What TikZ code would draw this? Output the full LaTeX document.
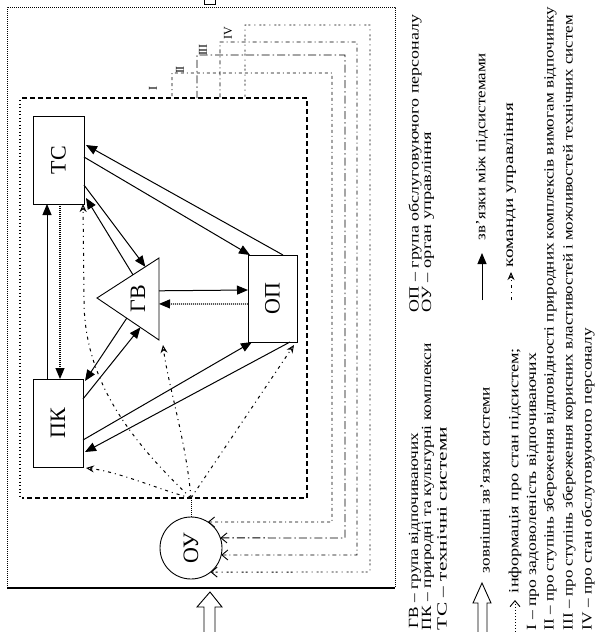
\documentclass[tikz,border=0pt]{standalone}
\usepackage{fontspec}
\setmainfont{Liberation Serif}
\usepackage{graphicx}
\usetikzlibrary{arrows.meta,calc}
\newcommand\hfit[2]{\resizebox{#1}{\height}{#2}}
\newcommand\lgf{\fontsize{14}{14}\selectfont}
\newcommand\bxf{\fontsize{22}{22}\selectfont}
\begin{document}
\begin{tikzpicture}[x=1pt,y=-1pt,
  every node/.style={inner sep=0pt,outer sep=0pt},
  box/.style={draw,line width=0.9pt},
  link/.style={line width=1pt,-{Triangle[length=11pt,width=9pt]}},
  retlink/.style={link,densely dotted,line width=1.2pt},
  cmd/.style={line width=1pt,dash pattern=on 3pt off 4pt on 1pt off 4pt,-{Stealth[length=8pt,width=7pt,open]}},
  info/.style={line width=0.9pt,{Straight Barb[length=6pt,width=10pt]}-},
  leg/.style={rotate=90,anchor=west,font=\lgf},
  roman/.style={font=\fontsize{12}{12}\selectfont},
  hollow/.style={line width=0.9pt}]
\useasboundingbox (0,0) rectangle (599,632);
\fill[white] (0,0) rectangle (599,632);

% outer frame
\draw[line width=1pt,dash pattern=on 1pt off 1pt] (7,588) -- (7,7) -- (395,7) -- (395,588);
\draw[line width=1.4pt] (7,588) -- (395,588);
% inner (system) boundary
\draw[line width=1.1pt,dash pattern=on 5pt off 3pt] (22,98) -- (307,98) -- (307,498) -- (22,498);
\draw[line width=1.2pt,dash pattern=on 1pt off 2.5pt] (20,100) -- (20,496);

% subsystems
\node[box,minimum width=51pt,minimum height=88pt] (tc) at (58.5,160) {\rotatebox{90}{\bxf ТС}};
\node[box,minimum width=50pt,minimum height=88pt] (pk) at (58,423) {\rotatebox{90}{\bxf ПК}};
\node[box,minimum width=49pt,minimum height=87pt] (op) at (272.5,298.5) {\rotatebox{90}{\bxf ОП}};
\draw[box] (97,298) coordinate (gvL) -- (159,258) coordinate (gvT) -- (159,340) coordinate (gvB) -- cycle;
\node (gv) at (138,299) {\rotatebox{90}{\bxf ГВ}};
\node[draw,circle,line width=0.9pt,minimum size=62pt] (ou) at (191,548) {\rotatebox{90}{\bxf ОУ}};
\coordinate (hub) at (191,498);

% links between subsystems
\draw[link] ([xshift=-11pt]pk.north) -- ([xshift=-11.5pt]tc.south);
\draw[retlink] ([xshift=1.5pt]tc.south) -- ([xshift=2pt]pk.north);
\draw[link] ([xshift=-14pt]op.north east) -- ([xshift=2pt,yshift=15pt]tc.east);
\draw[link] ([yshift=3pt]tc.east) -- ([xshift=2pt]op.north west);
\draw[link] ($(gvL)!0.58!(gvT)$) -- ([xshift=2pt,yshift=6pt]tc.south east);
\draw[link] ([yshift=-25pt]tc.east) -- ($(gvL)!0.78!(gvT)$);
\draw[link] ([yshift=-20pt]pk.north east) -- ($(gvL)!0.7!(gvB)$);
\draw[link] ($(gvL)!0.48!(gvB)$) -- ([xshift=2pt,yshift=-2pt]pk.north east);
\draw[link] ([yshift=-17pt]pk.east) -- ([xshift=4pt]op.south west);
\draw[link] ([xshift=-7pt]op.south east) -- ([xshift=2pt,yshift=-29pt]pk.east);
\draw[link] ($(gvT)!0.4!(gvB)$) -- ([yshift=8.5pt]op.west);
\draw[retlink] ([yshift=-5.5pt]op.west) -- ($(gvT)!0.56!(gvB)$);

% control commands
\draw[line width=1pt,densely dotted] (ou.north) -- (hub);
\draw[cmd] (hub) .. controls (160,490) and (120,472) .. ([xshift=3pt,yshift=-1pt]pk.south east);
\draw[cmd] (hub) .. controls (130,440) and (84,380) .. (84,300) -- ([xshift=-1pt]tc.south east);
\draw[cmd] (hub) .. controls (186,440) and (168,385) .. ([xshift=4pt,yshift=-5pt]gvB);
\draw[cmd] (hub) -- ([xshift=-3pt,yshift=-3pt]op.south east);

% information about the subsystems
\draw[info,dash pattern=on 3pt off 3pt on 3pt off 3pt on 1pt off 3pt] (ou.57) -- (332,522) -- (332,73) -- (172,73) -- (172,98);
\draw[info,dash pattern=on 8pt off 3pt on 1.5pt off 3pt] (ou.19) -- (345,538) -- (345,55) -- (197,55) -- (197,98);
\draw[info,dash pattern=on 4pt off 3pt on 1pt off 3pt] (ou.-13) -- (357,555) -- (357,42) -- (220,42) -- (220,98);
\draw[info,dash pattern=on 2pt off 2pt on 2pt off 4pt on 1pt off 4pt] (ou.-51) -- (370,572) -- (370,25) -- (245,25) -- (245,98);
\node[roman] (rI) at (153,88) {\rotatebox{90}{I}};
\node[roman] (rII) at (180,70) {\rotatebox{90}{II}};
\node[roman] (rIII) at (203,50) {\rotatebox{90}{III}};
\node[roman] (rIV) at (228,33) {\rotatebox{90}{IV}};

% external links of the system
\draw[hollow] (204,632) -- (204,607) -- (197,607) -- (210,592) -- (222,607) -- (215,607) -- (215,632);
\draw[hollow] (204,0) -- (204,4) -- (215,4) -- (215,0);

% legend
\node[leg] (t1) at (415,628) {\hfit{195pt}{ГВ – група відпочиваючих}};
\node[leg] (t2) at (428,630) {\hfit{287pt}{ПК – природні та культурні комплекси}};
\node[leg] (t3) at (442,630) {\hfit{203pt}{ТС – технічні системи}};
\draw[hollow] (478,632) -- (478,603) -- (473,603) -- (482,583) -- (491,603) -- (487,603) -- (487,632);
\node[leg] (t4) at (485,573) {\hfit{186pt}{зовнішні зв’язки системи}};
\coordinate (i0) at (515,632);
\coordinate (i1) at (515,600);
\draw[info,dash pattern=on 1pt off 2pt] (i1) -- (i0);
\node[leg] (t5) at (515,593) {\hfit{245pt}{інформація про стан підсистем;}};
\node[leg] (t6) at (533,630) {\hfit{277pt}{I – про задоволеність відпочиваючих}};
\node[leg] (t7) at (550,630) {\hfit{623pt}{II – про ступінь збереження відповідності природних комплексів вимогам відпочинку}};
\node[leg] (t8) at (569,630) {\hfit{615pt}{III – про ступінь збереження корисних властивостей і можливостей технічних систем}};
\node[leg] (t9) at (588,630) {\hfit{302pt}{IV – про стан обслуговуючого персоналу}};
\node[leg] (t10) at (415,312) {\hfit{297pt}{ОП – група обслуговуючого персоналу}};
\node[leg] (t11) at (428,312) {\hfit{180pt}{ОУ – орган управління}};
\coordinate (s0) at (482,300);
\coordinate (s1) at (482,253);
\draw[link] (s0) -- (s1);
\node[leg] (t12) at (482,240) {\hfit{187pt}{зв’язки між підсистемами}};
\coordinate (c0) at (511,300);
\coordinate (c1) at (511,272);
\draw[cmd] (c0) -- (c1);
\node[leg] (t13) at (510,267) {\hfit{164pt}{команди управління}};
\end{tikzpicture}
\end{document}
